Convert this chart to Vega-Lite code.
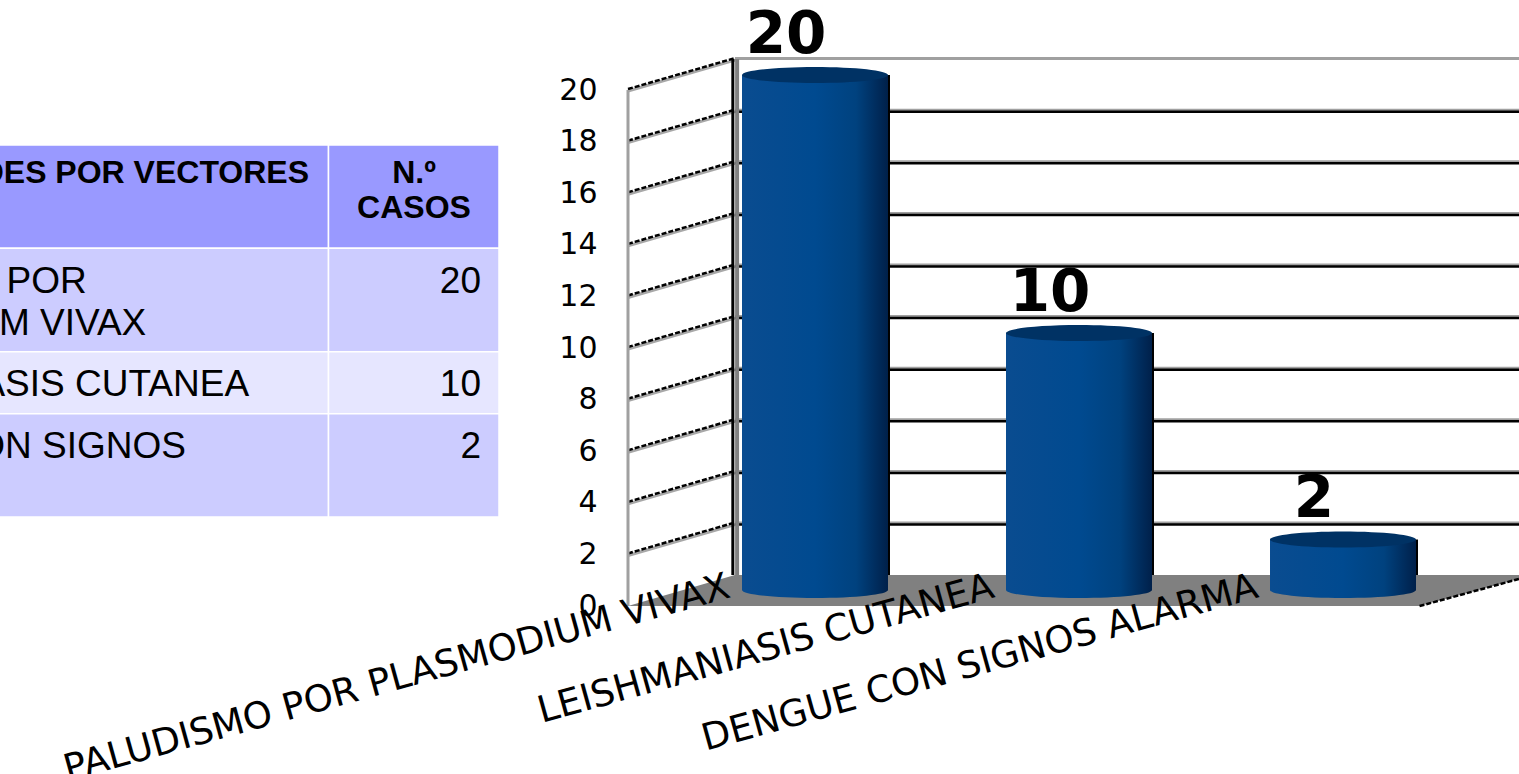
{
"$schema":"https://vega.github.io/schema/vega-lite/v6.json",
"padding":0,"background":"white","bounds":"flush","spacing":129,
"config":{"view":{"stroke":null},"font":"Liberation Sans"},
"datasets":{
"cases":[{"enfermedad":"PALUDISMO POR PLASMODIUM VIVAX","casos":20},{"enfermedad":"LEISHMANIASIS CUTANEA","casos":10},{"enfermedad":"DENGUE CON SIGNOS ALARMA","casos":2}],
"rows":[{"top":0,"bottom":5,"fill":"#9999ff"},{"top":5,"bottom":10,"fill":"#ccccff"},{"top":10,"bottom":13,"fill":"#e6e6ff"},{"top":13,"bottom":18,"fill":"#ccccff"}],
"grid":[{"v":2,"back":3.2},{"v":4,"back":5.2},{"v":6,"back":7.2},{"v":8,"back":9.2},{"v":10,"back":11.2},{"v":12,"back":13.2},{"v":14,"back":15.2},{"v":16,"back":17.2},{"v":18,"back":19.2},{"v":20,"back":21.2}],
"floor":[{"d":0,"top":0,"bottom":0},{"d":1,"top":1.2,"bottom":0},{"d":7.4,"top":1.2,"bottom":0},{"d":8.33,"top":1.2,"bottom":1.05}]
},
"hconcat":[
{"width":499,"height":774,
"layer":[
{"data":{"name":"rows"},"mark":{"type":"rect","clip":true,"stroke":"white","strokeWidth":1.5},
 "encoding":{"x":{"datum":-230,"type":"quantitative","scale":{"domain":[0,499],"nice":false,"zero":false},"axis":null},"x2":{"datum":328.5},
 "y":{"field":"top","type":"quantitative","scale":{"domain":[30.43,-7.01],"nice":false,"zero":false},"axis":null},"y2":{"field":"bottom"},
 "color":{"field":"fill","type":"nominal","scale":null}}},
{"data":{"name":"rows"},"mark":{"type":"rect","clip":true,"stroke":"white","strokeWidth":1.5},
 "encoding":{"x":{"datum":328.5,"type":"quantitative"},"x2":{"datum":499},
 "y":{"field":"top","type":"quantitative"},"y2":{"field":"bottom"},
 "color":{"field":"fill","type":"nominal","scale":null}}},
{"data":{"values":[{"t":"ENFERMEDADES POR VECTORES","line":1.35}]},"mark":{"type":"text","clip":true,"align":"left","fontSize":32,"fontWeight":"bold","color":"black","font":"Liberation Sans"},
 "encoding":{"x":{"datum":-222,"type":"quantitative"},"y":{"field":"line","type":"quantitative"},"text":{"field":"t"}}},
{"data":{"values":[{"t":"N.º","line":1.35},{"t":"CASOS","line":3.07}]},"mark":{"type":"text","clip":true,"align":"center","fontSize":32,"fontWeight":"bold","color":"black","font":"Liberation Sans"},
 "encoding":{"x":{"datum":414,"type":"quantitative"},"y":{"field":"line","type":"quantitative"},"text":{"field":"t"}}},
{"data":{"values":[{"t":"PALUDISMO POR","line":6.62},{"t":"PLASMODIUM VIVAX","line":8.66},{"t":"LEISHMANIASIS CUTANEA","line":11.62},{"t":"DENGUE CON SIGNOS","line":14.6},{"t":"ALARMA","line":16.6}]},"mark":{"type":"text","clip":true,"align":"left","fontSize":37,"color":"black","font":"Liberation Sans"},
 "encoding":{"x":{"datum":-219,"type":"quantitative"},"y":{"field":"line","type":"quantitative"},"text":{"field":"t"}}},
{"data":{"values":[{"t":"20","line":6.62},{"t":"10","line":11.62},{"t":"2","line":14.6}]},"mark":{"type":"text","clip":true,"align":"right","fontSize":37,"color":"black","font":"Liberation Sans"},
 "encoding":{"x":{"datum":481,"type":"quantitative"},"y":{"field":"line","type":"quantitative"},"text":{"field":"t"}}}
]},
{"width":891,"height":774,
"resolve":{"scale":{"x":"independent"}},
"layer":[
{"layer":[
 {"data":{"name":"floor"},"mark":{"type":"area","color":"#808080","interpolate":"linear"},
  "encoding":{"x":{"field":"d","type":"quantitative","scale":{"domain":[0,8.33],"nice":false,"zero":false},"axis":null},
  "y":{"field":"top","type":"quantitative","scale":{"domain":[-6.51,23.49],"nice":false,"zero":false},
   "axis":{"values":[0,2,4,6,8,10,12,14,16,18,20],"title":null,"domain":false,"ticks":false,"grid":false,"labelPadding":31,"labelFont":"DejaVu Sans","labelFontSize":30,"labelColor":"black","labelFlush":false}},
  "y2":{"field":"bottom"}}},
 {"data":{"name":"grid"},"mark":{"type":"rule","color":"#a0a0a0","strokeWidth":3,"yOffset":-0.5,"y2Offset":-0.5},
  "encoding":{"x":{"datum":1,"type":"quantitative"},"x2":{"datum":8.33},"y":{"field":"back","type":"quantitative"}}},
 {"data":{"name":"grid"},"transform":[{"filter":"datum.v<20"}],"mark":{"type":"rule","color":"black","strokeWidth":2.5,"yOffset":1},
  "encoding":{"x":{"datum":1,"type":"quantitative"},"x2":{"datum":8.33},"y":{"field":"back","type":"quantitative"}}},
 {"data":{"name":"grid"},"mark":{"type":"rule","color":"#a8a8a8","strokeWidth":3,"yOffset":1,"y2Offset":1},
  "encoding":{"x":{"datum":0,"type":"quantitative"},"x2":{"datum":1},"y":{"field":"v","type":"quantitative"},"y2":{"field":"back"}}},
 {"data":{"name":"grid"},"mark":{"type":"rule","color":"black","strokeWidth":2.5,"strokeDash":[5,2],"yOffset":-1,"y2Offset":-1},
  "encoding":{"x":{"datum":0,"type":"quantitative"},"x2":{"datum":1},"y":{"field":"v","type":"quantitative"},"y2":{"field":"back"}}},
 {"data":{"values":[{"a":0,"c":1.05}]},"mark":{"type":"rule","color":"black","strokeWidth":2.5,"strokeDash":[5,2]},
  "encoding":{"x":{"datum":7.4,"type":"quantitative"},"x2":{"datum":8.33},"y":{"field":"a","type":"quantitative"},"y2":{"field":"c"}}},
 {"mark":{"type":"rule","color":"#a0a0a0","strokeWidth":3},"data":{"values":[{"a":0,"b":20}]},
  "encoding":{"x":{"datum":0,"type":"quantitative"},"y":{"field":"a","type":"quantitative"},"y2":{"field":"b"}}},
 {"mark":{"type":"rule","color":"black","strokeWidth":3},"data":{"values":[{"a":1.2,"b":21.2}]},
  "encoding":{"x":{"datum":0.98,"type":"quantitative"},"y":{"field":"a","type":"quantitative"},"y2":{"field":"b"}}},
 {"mark":{"type":"rule","color":"#808080","strokeWidth":4},"data":{"values":[{"a":1.2,"b":21.2}]},
  "encoding":{"x":{"datum":1.02,"type":"quantitative"},"y":{"field":"a","type":"quantitative"},"y2":{"field":"b"}}}
]},
{"data":{"name":"cases"},
 "encoding":{"x":{"field":"enfermedad","type":"nominal","sort":null,
   "scale":{"type":"band","domain":["PALUDISMO POR PLASMODIUM VIVAX","LEISHMANIASIS CUTANEA","DENGUE CON SIGNOS ALARMA"],"range":[114,788],"paddingInner":0.447,"paddingOuter":0},
   "axis":{"title":null,"orient":"bottom","offset":-188,"domain":false,"ticks":false,"labelAngle":-15.5,"labelAlign":"right","labelBaseline":"middle","labelPadding":0,"labelOffset":-86,"labelFont":"DejaVu Sans","labelFontSize":37,"labelColor":"black","labelLimit":0,"labelOverlap":false,"zindex":1}}},
 "layer":[
 {"mark":{"type":"bar","color":"black","xOffset":2,"yOffset":-15},"encoding":{"y":{"field":"casos","type":"quantitative"},"y2":{"datum":1.2}}},
 {"mark":{"type":"point","filled":true,"opacity":1,"yOffset":-16,"color":{"gradient":"linear","x1":0,"x2":1,"y1":0,"y2":0,"stops":[{"offset":0,"color":"#0a4c90"},{"offset":0.5,"color":"#004a90"},{"offset":0.78,"color":"#00427f"},{"offset":1,"color":"#00204a"}]},"shape":"M-1,0A1,0.11 0 1 1 1,0A1,0.11 0 1 1 -1,0Z"},
  "encoding":{"y":{"datum":0,"type":"quantitative"},"size":{"value":21316}}},
 {"mark":{"type":"bar","yOffset":-15,"y2Offset":-16,"color":{"gradient":"linear","x1":0,"x2":1,"y1":0,"y2":0,"stops":[{"offset":0,"color":"#0a4c90"},{"offset":0.5,"color":"#004a90"},{"offset":0.78,"color":"#00427f"},{"offset":1,"color":"#00204a"}]}},
  "encoding":{"y":{"field":"casos","type":"quantitative"},"y2":{"datum":0}}},
 {"mark":{"type":"point","filled":true,"opacity":1,"yOffset":-15,"color":"#003264","shape":"M-1,0A1,0.11 0 1 1 1,0A1,0.11 0 1 1 -1,0Z"},
  "encoding":{"y":{"field":"casos","type":"quantitative"},"size":{"value":21316}}},
 {"mark":{"type":"text","dx":-29,"dy":-54,"font":"DejaVu Sans","fontWeight":"bold","fontSize":58,"color":"black","baseline":"middle"},
  "encoding":{"y":{"field":"casos","type":"quantitative"},"text":{"field":"casos","type":"quantitative"}}}
 ]}
]}
]}
